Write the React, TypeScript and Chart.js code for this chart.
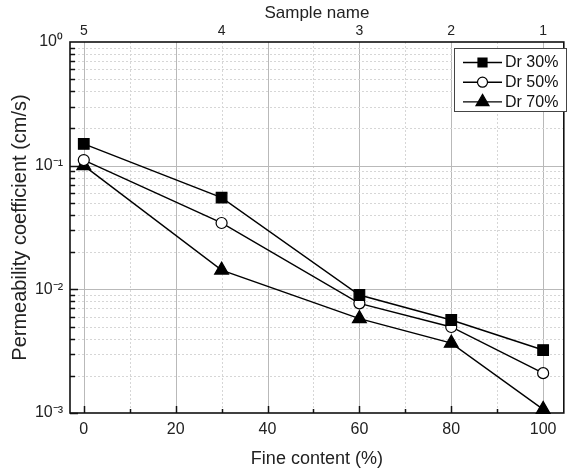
import React, { useEffect, useRef } from 'react';
import { Chart, registerables } from 'chart.js';

Chart.register(...registerables);

// ---- data ----
const fineContent = [0, 30, 60, 80, 100];
const sampleNames = ['5', '4', '3', '2', '1'];
const dr30 = [0.15, 0.0551, 0.009, 0.00565, 0.00323];
const dr50 = [0.111, 0.0344, 0.0077, 0.00496, 0.0021];
const dr70 = [0.1, 0.0143, 0.0058, 0.00367, 0.00107];
const seriesLabels = ['Dr 30%', 'Dr 50%', 'Dr 70%'];
const xTicks = [0, 20, 40, 60, 80, 100];
const yTicks = [1e-3, 1e-2, 1e-1, 1];
const yTickLabels = ['10⁻³', '10⁻²', '10⁻¹', '10⁰'];

const FONT = "'Liberation Sans', Arial, sans-serif";

const gridPlugin = {
  id: 'customGrid',
  beforeDatasetsDraw(chart: any) {
    const { ctx, chartArea: a, scales } = chart;
    const x = scales.x;
    const y = scales.y;
    ctx.save();
    ctx.lineWidth = 1;
    for (let v = 0; v <= 100; v += 10) {
      const px = Math.round(x.getPixelForValue(v)) + 0.5;
      const major = v % 20 === 0;
      ctx.strokeStyle = major ? '#b9b9b9' : '#d6d6d6';
      ctx.setLineDash(major ? [] : [2, 2]);
      ctx.beginPath();
      ctx.moveTo(px, a.top);
      ctx.lineTo(px, a.bottom);
      ctx.stroke();
    }
    for (let d = -3; d < 0; d++) {
      for (let k = 1; k <= 9; k++) {
        const v = k * Math.pow(10, d);
        if (d === -3 && k === 1) continue;
        const py = Math.round(y.getPixelForValue(v)) + 0.5;
        const major = k === 1;
        ctx.strokeStyle = major ? '#b9b9b9' : '#d6d6d6';
        ctx.setLineDash(major ? [] : [2, 2]);
        ctx.beginPath();
        ctx.moveTo(a.left, py);
        ctx.lineTo(a.right, py);
        ctx.stroke();
      }
    }
    ctx.setLineDash([]);
    ctx.strokeStyle = '#111';
    ctx.lineWidth = 1.5;
    for (let v = 0; v <= 100; v += 10) {
      const px = Math.round(x.getPixelForValue(v)) + 0.5;
      const len = v % 20 === 0 ? 7 : 4;
      ctx.beginPath();
      ctx.moveTo(px, a.bottom);
      ctx.lineTo(px, a.bottom - len);
      ctx.stroke();
    }
    for (let d = -3; d < 0; d++) {
      for (let k = 1; k <= 9; k++) {
        const v = k * Math.pow(10, d);
        const py = Math.round(y.getPixelForValue(v)) + 0.5;
        const len = k === 1 ? 8 : 5;
        ctx.beginPath();
        ctx.moveTo(a.left, py);
        ctx.lineTo(a.left + len, py);
        ctx.stroke();
      }
    }
    ctx.lineWidth = 1.6;
    ctx.strokeStyle = '#111';
    ctx.strokeRect(a.left, a.top, a.right - a.left, a.bottom - a.top);
    ctx.restore();
  },
};

function drawMarker(ctx: CanvasRenderingContext2D, style: string, cx: number, cy: number, fill: string) {
  ctx.beginPath();
  if (style === 'rect') {
    ctx.rect(cx - 4.5, cy - 4.5, 9, 9);
  } else if (style === 'circle') {
    ctx.arc(cx, cy, 5, 0, Math.PI * 2);
  } else {
    const r = 7.5;
    ctx.moveTo(cx, cy - r);
    ctx.lineTo(cx + r * Math.sin((2 * Math.PI) / 3), cy + r * 0.5);
    ctx.lineTo(cx - r * Math.sin((2 * Math.PI) / 3), cy + r * 0.5);
    ctx.closePath();
  }
  ctx.fillStyle = fill;
  ctx.fill();
  ctx.lineWidth = 1.2;
  ctx.strokeStyle = '#000';
  ctx.stroke();
}

const legendPlugin = {
  id: 'customLegend',
  afterDraw(chart: any) {
    const { ctx } = chart;
    const bx = 454, by = 48, bw = 112, bh = 63;
    ctx.save();
    ctx.fillStyle = '#fff';
    ctx.fillRect(bx, by, bw, bh);
    ctx.lineWidth = 1;
    ctx.strokeStyle = '#444';
    ctx.strokeRect(bx + 0.5, by + 0.5, bw, bh);
    chart.data.datasets.forEach((ds: any, i: number) => {
      const cy = 62.5 + i * 19.7;
      ctx.strokeStyle = '#000';
      ctx.lineWidth = 1.4;
      ctx.beginPath();
      ctx.moveTo(463, cy);
      ctx.lineTo(502, cy);
      ctx.stroke();
      drawMarker(ctx, ds.pointStyle, 482.5, cy, ds.pointBackgroundColor);
      ctx.fillStyle = '#111';
      ctx.font = `16px ${FONT}`;
      ctx.textAlign = 'left';
      ctx.textBaseline = 'middle';
      ctx.fillText(ds.label, 505, cy + 0.5);
    });
    ctx.restore();
  },
};

function toPoints(vals: number[]) {
  return fineContent.map((x, i) => ({ x, y: vals[i] }));
}

export default function App() {
  const ref = useRef<HTMLCanvasElement | null>(null);
  useEffect(() => {
    if (!ref.current) return;
    const common = {
      borderColor: '#000',
      borderWidth: 1.4,
      pointBorderColor: '#000',
      pointBorderWidth: 1.2,
      showLine: true,
      fill: false,
      tension: 0,
      clip: false as any,
    };
    const chart = new Chart(ref.current, {
      type: 'line',
      data: {
        datasets: [
          { ...common, label: seriesLabels[0], data: toPoints(dr30), pointStyle: 'rect', pointRadius: 7.5, pointBackgroundColor: '#000' },
          { ...common, label: seriesLabels[1], data: toPoints(dr50), pointStyle: 'circle', pointRadius: 5.5, pointBackgroundColor: '#fff' },
          { ...common, label: seriesLabels[2], data: toPoints(dr70), pointStyle: 'triangle', pointRadius: 8, pointBackgroundColor: '#000' },
        ] as any,
      },
      options: {
        animation: false,
        responsive: false,
        layout: { padding: { left: 0, right: 5, top: 0, bottom: 0 } },
        plugins: { legend: { display: false }, tooltip: { enabled: false } },
        scales: {
          x: {
            type: 'linear',
            position: 'bottom',
            min: -3,
            max: 104.5,
            afterBuildTicks: (s: any) => { s.ticks = xTicks.map((v) => ({ value: v })); },
            afterFit: (s: any) => { s.height = 58; },
            grid: { display: false, drawTicks: false },
            border: { display: false },
            ticks: { autoSkip: false, maxRotation: 0, padding: 7, color: '#222', font: { family: FONT, size: 16 } },
            title: { display: true, text: 'Fine content (%)', color: '#222', font: { family: FONT, size: 18 }, padding: { top: 0, bottom: 1 } },
          },
          x2: {
            type: 'linear',
            position: 'top',
            min: -3,
            max: 104.5,
            afterBuildTicks: (s: any) => { s.ticks = fineContent.map((v) => ({ value: v })); },
            afterFit: (s: any) => { s.height = 42; },
            grid: { display: false, drawTicks: false },
            border: { display: false },
            ticks: {
              autoSkip: false, maxRotation: 0, padding: 2, color: '#222', font: { family: FONT, size: 14 },
              callback: (_v: any, i: number) => sampleNames[i],
            },
            title: { display: true, text: 'Sample name', color: '#222', font: { family: FONT, size: 17 }, padding: { top: 3, bottom: 0 } },
          },
          y: {
            type: 'logarithmic',
            position: 'left',
            min: 1e-3,
            max: 1,
            afterBuildTicks: (s: any) => { s.ticks = yTicks.map((v) => ({ value: v })); },
            afterFit: (s: any) => { s.width = 70; },
            grid: { display: false, drawTicks: false },
            border: { display: false },
            ticks: {
              autoSkip: false, padding: 7, color: '#222', font: { family: FONT, size: 16 },
              callback: (_v: any, i: number) => yTickLabels[i],
            },
            title: { display: true, text: 'Permeability coefficient (cm/s)', color: '#222', font: { family: FONT, size: 20 }, padding: { top: 8, bottom: 0 } },
          },
        } as any,
      },
      plugins: [gridPlugin, legendPlugin],
    });
    return () => chart.destroy();
  }, []);
  return (
    <div style={{ position: 'absolute', left: 0, top: 0, width: 573, height: 471, background: '#fff' }}>
      <canvas ref={ref} width={573} height={471} style={{ display: 'block' }} />
    </div>
  );
}
